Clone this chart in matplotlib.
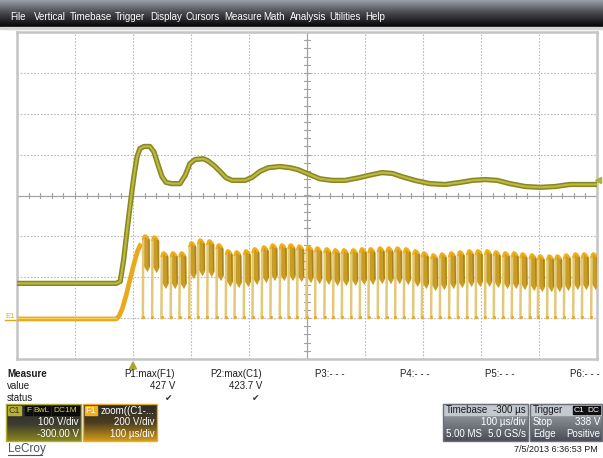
'''
fun: LeCroy scope screenshot - C1 bus voltage and F1 switching waveform
'''
import numpy as np
import matplotlib.pyplot as plt
from matplotlib.patches import Rectangle, Polygon
from matplotlib.colors import LinearSegmentedColormap

plt.rcParams['font.family'] = ['Liberation Sans', 'DejaVu Sans']

## C1 trace (time in us from trigger, volts)
c1_t = [-200, -126, -57, -29, -22, -16, -9, -3, 2, 7, 12, 19, 29, 36, 43, 50, 57, 67, 81, 90,
        98, 107, 121, 129, 140, 150, 160, 171, 193, 205, 219, 233, 253, 271, 285, 305, 322, 343,
        366, 391, 412, 429, 447, 464, 486, 512, 538, 564, 585, 607, 628, 650, 676, 702, 728,
        753, 779, 800]
c1_v = [85, 85, 85, 85, 90, 144, 229, 298, 351, 395, 415, 420, 420, 407, 376, 346, 332, 329,
        329, 349, 378, 388, 390, 385, 373, 359, 344, 337, 337, 344, 359, 368, 371, 368, 363,
        351, 341, 337, 337, 344, 351, 356, 354, 346, 337, 329, 327, 332, 337, 339, 337, 329,
        322, 320, 322, 327, 327, 327]

## F1 trace: flat part and first rise
f1_t = [-200, -120, -60, -29, -24, -18, -12, -5, 2, 8, 14]
f1_v = [-4, -4, -4, -4, 10, 50, 110, 190, 270, 330, 365]

## F1 pulses: time of each notch (us) and peak after it (V)
pulse_t = [17, 33, 49, 65, 80, 97, 112, 128, 144, 160, 175, 191, 206, 222, 237, 253, 268,
           283, 299, 314, 330, 345, 360, 376, 391, 406, 422, 437, 452, 467, 483, 498, 514,
           529, 545, 560, 576, 591, 607, 622, 638, 653, 668, 684, 698, 714, 728, 743, 759,
           774, 790]
pulse_pk = [405, 400, 322, 322, 322, 371, 385, 381, 361, 332, 327, 332, 342, 351, 361, 361,
            361, 356, 351, 346, 342, 337, 337, 337, 342, 342, 346, 346, 346, 342, 332, 322,
            312, 317, 322, 327, 332, 332, 332, 327, 322, 322, 317, 312, 307, 307, 307, 312,
            317, 317, 317]

trig_level = 338
menu_items = ['File', 'Vertical', 'Timebase', 'Trigger', 'Display', 'Cursors', 'Measure',
              'Math', 'Analysis', 'Utilities', 'Help']
menu_x = [10, 34, 70, 115, 150, 185, 224, 263, 290, 329, 365]


def c1_div(v):
    return (np.asarray(v, dtype=float) - 300.) / 100.   # 100 V/div, offset -300 V


def f1_div(v):
    return np.asarray(v, dtype=float) / 200. - 3.       # 200 V/div


fig = plt.figure(figsize=(6.03, 4.58), dpi=100)
bg = fig.add_axes([0, 0, 1, 1], zorder=0)
bg.set_xlim(0, 603)
bg.set_ylim(458, 0)
bg.axis('off')


def grad(x0, x1, y0, y1, stops):
    cmap = LinearSegmentedColormap.from_list('g', stops)
    bg.imshow(np.linspace(0, 1, 64)[:, None], cmap=cmap, extent=(x0, x1, y1, y0),
              aspect='auto', origin='upper', zorder=1)


def txt(x, y, s, **kw):
    kw.setdefault('fontsize', 7)
    kw.setdefault('va', 'center')
    kw.setdefault('color', '#1e1e1e')
    bg.text(x, y, s, zorder=5, **kw)


# menu bar
grad(0, 603, 0, 27, [(0, '#9a9ea7'), (0.45, '#4a4c51'), (1, '#050505')])
bg.add_patch(Rectangle((0, 27), 603, 2, color='#d6d6d6', zorder=2))
for name, x in zip(menu_items, menu_x):
    txt(x, 17, name, color='white', fontsize=7)

# scope grid
ax = fig.add_axes([17/603, 1-359/458, 580/603, 327/458], zorder=1)
ax.set_xlim(-200, 800)
ax.set_ylim(-4, 4)
ax.set_xticks([])
ax.set_yticks([])
for s in ax.spines.values():
    s.set_color('#c4c4c4')
    s.set_linewidth(1.8)
grid_c = '#b9b9b9'
for t in range(-100, 800, 100):
    if t != 300:
        ax.axvline(t, color=grid_c, lw=0.8, ls=(0, (1.5, 1.5)), zorder=0)
for d in range(-3, 4):
    if d != 0:
        ax.axhline(d, color=grid_c, lw=0.8, ls=(0, (1.5, 1.5)), zorder=0)
ax.axvline(300, color='#a3a3a3', lw=0.9, zorder=0)
ax.axhline(0, color='#a3a3a3', lw=0.9, zorder=0)
for t in np.arange(-200, 801, 20):
    ax.plot([t, t], [-0.07, 0.07], color='#a3a3a3', lw=0.8, zorder=0)
for d in np.arange(-4, 4.01, 0.2):
    ax.plot([295, 305], [d, d], color='#a3a3a3', lw=0.8, zorder=0)

# C1 trace
ax.plot(c1_t, c1_div(c1_v), color='#8a8820', lw=3.8, solid_capstyle='butt', zorder=3)
ax.plot(c1_t, c1_div(c1_v), color='#bdb944', lw=1.5, zorder=4)

# F1 trace
ax.plot(f1_t, f1_div(f1_v), color='#e9a91d', lw=3.4, solid_capstyle='butt', zorder=3)
ax.plot(f1_t[:4], f1_div(f1_v[:4]) + 0.02, color='#f6cf62', lw=1.0, zorder=4)
for t0, pk in zip(pulse_t, pulse_pk):
    bx = [t0 + 1.5, t0 + 3, t0 + 8, t0 + 12.5, t0 + 12.5, t0 + 8, t0 + 1.5]
    by = [pk - 10, pk - 2, pk - 8, pk - 22, pk - 155, pk - 180, pk - 150]
    ax.fill(bx, f1_div(by), color='#c99d25', lw=0, zorder=3)
    ax.plot([t0 + 10, t0 + 11], f1_div([pk - 18, pk - 150]), color='#a88319', lw=0.9, zorder=3)
    ax.plot([t0, t0 + 0.6], f1_div([0, pk - 18]), color='#e3c878', lw=1.8, zorder=3)
    ax.plot([t0 + 0.6, t0 + 1.8, t0 + 3.5, t0 + 6, t0 + 8.5],
            f1_div([pk - 18, pk - 4, pk, pk - 3, pk - 12]), color='#f0ae18', lw=1.7, zorder=4)
    ax.plot(t0 + 0.3, f1_div(6), 'o', ms=2.2, color='#eaa81c', mec='none', zorder=4)

# trigger level marker on the right edge
ax.plot(801, c1_div(trig_level), marker='<', ms=5, color='#b3ae35', clip_on=False, zorder=5)
txt(5, 316, 'E1', fontsize=5.5, color='#d4ac1c')
bg.plot([5, 16], [320, 320], color='#d4ac1c', lw=1, zorder=3)

# trigger position marker below grid
bg.add_patch(Polygon([(129.5, 369), (136.5, 369), (133, 362)], color='#a8a432', zorder=3))

# measure table
txt(7, 374, 'Measure', fontweight='bold')
txt(7, 386, 'value')
txt(7, 398, 'status')
meas_x = [175, 262, 345, 430, 515, 600]
meas_lbl = ['P1:max(F1)', 'P2:max(C1)', 'P3:- - -', 'P4:- - -', 'P5:- - -', 'P6:- - -']
for x, s in zip(meas_x, meas_lbl):
    txt(x, 374, s, ha='right')
txt(175, 386, '427 V', ha='right')
txt(262, 386, '423.7 V', ha='right')
txt(172, 398, '\u2714', ha='right', fontsize=6.5, color='#333333')
txt(259, 398, '\u2714', ha='right', fontsize=6.5, color='#333333')

# channel descriptors
grad(6, 81, 404, 441, [(0, '#2a2a2a'), (0.55, '#3c3c30'), (1, '#8a861c')])
bg.add_patch(Rectangle((6, 404), 75, 37, fill=False, ec='#b0ac38', lw=1, zorder=3))
bg.add_patch(Rectangle((8, 406), 13, 9, color='#b4b03a', zorder=3))
txt(14.5, 410.5, 'C1', ha='center', fontsize=6.5, color='#3a3808')
for x0, w, s in [(25, 7, 'F'), (34, 16, 'BwL'), (52, 27, 'DC1M')]:
    bg.add_patch(Rectangle((x0, 406), w, 9, color='#0c0c0c', zorder=3))
    txt(x0 + w / 2, 410.5, s, ha='center', fontsize=6, color='#d8cf48')
txt(79, 422, '100 V/div', ha='right', color='white')
txt(79, 434, '-300.00 V', ha='right', color='white')

grad(83, 157, 404, 441, [(0, '#2a2a2a'), (0.5, '#4a3e20'), (1, '#d29a18')])
bg.add_patch(Rectangle((83, 404), 74, 37, fill=False, ec='#e8ad22', lw=1, zorder=3))
bg.add_patch(Rectangle((85, 406), 12, 9, color='#f2b21e', zorder=3))
txt(91, 410.5, 'F1', ha='center', fontsize=6.5, color='white')
txt(101, 410.5, 'zoom((C1-...', color='white')
txt(155, 422, '200 V/div', ha='right', color='white')
txt(155, 434, '100 \u00b5s/div', ha='right', color='white')

# timebase / trigger boxes
for x0, x1 in [(443, 528), (530, 602)]:
    bg.add_patch(Rectangle((x0, 404), x1 - x0, 11, color='#c4c8cf', zorder=2))
    grad(x0, x1, 415, 441, [(0, '#8d9199'), (1, '#4b4e55')])
    bg.add_patch(Rectangle((x0, 404), x1 - x0, 37, fill=False, ec='#6c7078', lw=1, zorder=3))
txt(446, 410, 'Timebase', color='#1a1a1a')
txt(526, 410, '-300 \u00b5s', ha='right', color='#1a1a1a')
txt(526, 422, '100 \u00b5s/div', ha='right', color='white')
txt(446, 434, '5.00 MS', color='white')
txt(526, 434, '5.0 GS/s', ha='right', color='white')
txt(533, 410, 'Trigger', color='#1a1a1a')
for x0, w, s in [(573, 13, 'C1'), (587, 13, 'DC')]:
    bg.add_patch(Rectangle((x0, 406), w, 8, color='#101010', zorder=3))
    txt(x0 + w / 2, 410, s, ha='center', fontsize=6, color='white')
txt(533, 422, 'Stop', color='white')
txt(600, 422, '338 V', ha='right', color='white')
txt(533, 434, 'Edge', color='white')
txt(600, 434, 'Positive', ha='right', color='white')

# footer
txt(8, 449, 'LeCroy', fontsize=8.5, color='#4a5466')
bg.plot([8, 42], [455, 455], color='#4a5466', lw=0.8, zorder=3)
txt(598, 449, '7/5/2013 6:36:53 PM', ha='right', fontsize=6.5)

plt.savefig('out.png', dpi=100)
